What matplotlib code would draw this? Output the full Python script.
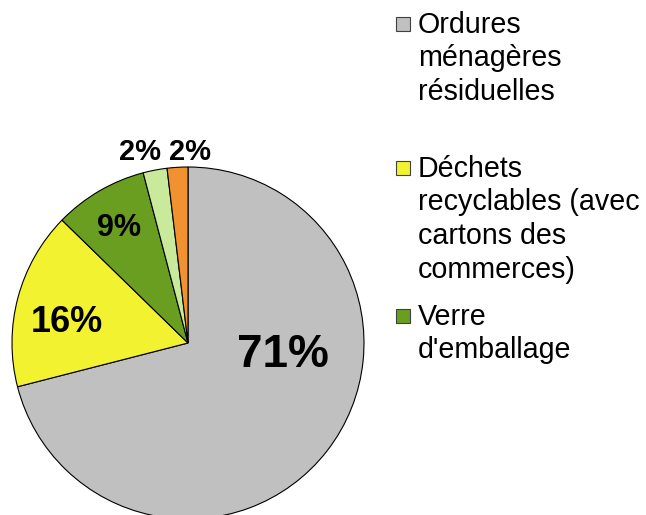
import matplotlib
matplotlib.use("Agg")
import matplotlib.pyplot as plt
from matplotlib.patches import Rectangle

plt.rcParams['font.family'] = ['Liberation Sans', 'DejaVu Sans']

# parts of the waste (percent), clockwise from 12 o'clock
values = [71.0, 16.3, 8.6, 2.2, 1.9]
colors = ['#C0C0C0', '#F3F231', '#6A9E20', '#C8EA9A', '#F29130']
legend_labels = ['Ordures\nménagères\nrésiduelles',
                 'Déchets\nrecyclables (avec\ncartons des\ncommerces)',
                 "Verre\nd'emballage"]

# label placement (data coords, baseline) and font sizes
label_pos = [(0.54, -0.136), (-0.69, 0.063), (-0.39, 0.61), (-0.27, 1.04), (0.01, 1.04)]
label_size = [33, 26, 22, 21, 21]

W, H = 646, 515
fig = plt.figure(figsize=(W / 100, H / 100), dpi=100)
cx, cy, r = 188, 343, 176
ax = fig.add_axes([(cx - r) / W, (H - cy - r) / H, 2 * r / W, 2 * r / H])

wedges, _ = ax.pie(values, colors=colors, startangle=90, counterclock=False,
                   wedgeprops=dict(edgecolor='black', linewidth=0.8))
ax.set_xlim(-1, 1)
ax.set_ylim(-1, 1)
ax.axis('off')

for v, (x, y), s in zip(values, label_pos, label_size):
    ax.text(x, y, '%d%%' % round(v), ha='center', va='baseline',
            fontsize=s, fontweight='bold', clip_on=False)

# legend drawn by hand (uneven spacing in the original), one text per line
baselines = [33, 177, 325]
line_step = 33.5
for lab, col, b in zip(legend_labels, colors, baselines):
    fig.add_artist(Rectangle((396 / W, 1 - (b - 2) / H), 14 / W, 14 / H,
                             transform=fig.transFigure, facecolor=col,
                             edgecolor='#404040', linewidth=0.8))
    for i, line in enumerate(lab.split('\n')):
        fig.text(418 / W, 1 - (b + i * line_step) / H, line, fontsize=20.6,
                 va='baseline', ha='left')

fig.savefig('out.png', dpi=100)
